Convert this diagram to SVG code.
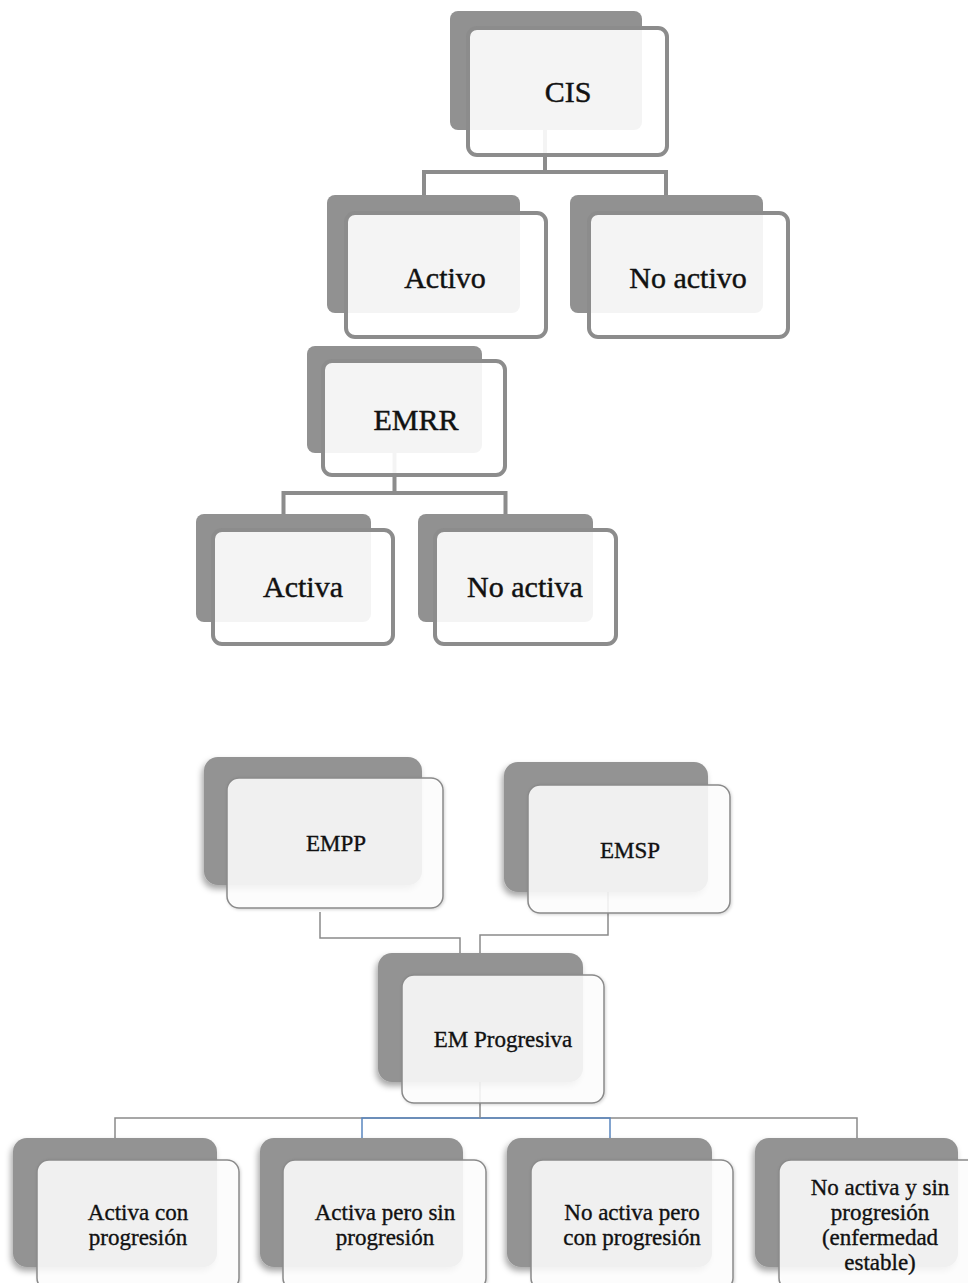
<svg xmlns="http://www.w3.org/2000/svg" width="968" height="1283" viewBox="0 0 968 1283">
  <defs>
    <filter id="shadowBack" x="-20%" y="-20%" width="140%" height="140%">
      <feDropShadow dx="-2" dy="4" stdDeviation="3" flood-color="#000" flood-opacity="0.35"/>
    </filter>
    <filter id="shadowFront" x="-20%" y="-20%" width="140%" height="140%">
      <feDropShadow dx="1" dy="1" stdDeviation="1.5" flood-color="#000" flood-opacity="0.18"/>
    </filter>
  </defs>
  <style>
    .back { fill: #919191; }
    .front-thick { fill: #ffffff; fill-opacity: 0.9; stroke: #8c8c8c; stroke-width: 4; }
    .back-soft { fill: #939393; filter: url(#shadowBack); }
    .front-thin { fill: #ffffff; fill-opacity: 0.86; stroke: #8a8a8a; stroke-width: 1.5; filter: url(#shadowFront); }
    .lbl-big { font-family: "Liberation Serif", "Times New Roman", serif; font-size: 30px; fill: #111; stroke: #111; stroke-width: 0.45; text-anchor: middle; }
    .lbl { font-family: "Liberation Serif", "Times New Roman", serif; font-size: 23px; fill: #111; stroke: #111; stroke-width: 0.35; text-anchor: middle; }
    .wire-thick { fill: none; stroke: #8c8c8c; stroke-width: 4; stroke-linejoin: miter; }
    .wire { fill: none; stroke: #8a8a8a; stroke-width: 1.5; }
    .wire-blue { fill: none; stroke: #5a86c0; stroke-width: 1.5; }
  </style>
  <rect width="968" height="1283" fill="#ffffff"/>

  <!-- connectors (drawn beneath the boxes) -->
  <g id="connectors">
    <path class="wire-thick" d="M545 130 V172 M424 195 V172 H666 V195"/>
    <path class="wire-thick" d="M394.5 453 V493 M283.5 514 V493 H505.5 V514"/>
    <path class="wire" d="M320 912 V938 H460 V953"/>
    <path class="wire" d="M608 892 V935 H480 V953"/>
    <path class="wire" d="M115 1138 V1118 H857 V1138"/>
    <path class="wire-blue" d="M362 1138 V1118 H610 V1138"/>
    <path class="wire" stroke="#6f7f95" d="M480 1082 V1118"/>
  </g>

  <!-- upper tree -->
  <g id="node-cis">
    <rect class="back" x="450" y="11" width="192" height="119" rx="8"/>
    <rect class="front-thick" x="468" y="28" width="199" height="127" rx="9"/>
    <text class="lbl-big" x="568" y="102" font-size="27">CIS</text>
  </g>
  <g id="node-activo">
    <rect class="back" x="327" y="195" width="193" height="118" rx="8"/>
    <rect class="front-thick" x="346" y="213" width="200" height="124" rx="9"/>
    <text class="lbl-big" x="445" y="288">Activo</text>
  </g>
  <g id="node-no-activo">
    <rect class="back" x="570" y="195" width="193" height="118" rx="8"/>
    <rect class="front-thick" x="589" y="213" width="199" height="124" rx="9"/>
    <text class="lbl-big" x="688" y="288">No activo</text>
  </g>
  <g id="node-emrr">
    <rect class="back" x="307" y="346" width="175" height="107" rx="8"/>
    <rect class="front-thick" x="323" y="361" width="182" height="114" rx="9"/>
    <text class="lbl-big" x="416" y="430">EMRR</text>
  </g>
  <g id="node-activa">
    <rect class="back" x="196" y="514" width="175" height="108" rx="8"/>
    <rect class="front-thick" x="213" y="530" width="180" height="114" rx="9"/>
    <text class="lbl-big" x="303" y="597">Activa</text>
  </g>
  <g id="node-no-activa">
    <rect class="back" x="418" y="514" width="175" height="108" rx="8"/>
    <rect class="front-thick" x="435" y="530" width="181" height="114" rx="9"/>
    <text class="lbl-big" x="525" y="597">No activa</text>
  </g>

  <!-- progressive forms -->
  <g id="node-empp">
    <rect class="back-soft" x="204" y="757" width="218" height="128" rx="14"/>
    <rect class="front-thin" x="227" y="778" width="216" height="130" rx="12"/>
    <text class="lbl" x="336" y="851" font-size="22">EMPP</text>
  </g>
  <g id="node-emsp">
    <rect class="back-soft" x="504" y="762" width="204" height="130" rx="14"/>
    <rect class="front-thin" x="528" y="785" width="202" height="128" rx="12"/>
    <text class="lbl" x="630" y="858" font-size="22">EMSP</text>
  </g>
  <g id="node-em-progresiva">
    <rect class="back-soft" x="378" y="953" width="205" height="129" rx="14"/>
    <rect class="front-thin" x="402" y="975" width="202" height="128" rx="12"/>
    <text class="lbl" x="503" y="1047">EM Progresiva</text>
  </g>

  <g id="node-activa-con-progresion">
    <rect class="back-soft" x="13" y="1138" width="204" height="129" rx="14"/>
    <rect class="front-thin" x="37" y="1160" width="202" height="130" rx="12"/>
    <text class="lbl" x="138" y="1220">Activa con</text>
    <text class="lbl" x="138" y="1245">progresión</text>
  </g>
  <g id="node-activa-sin-progresion">
    <rect class="back-soft" x="260" y="1138" width="203" height="129" rx="14"/>
    <rect class="front-thin" x="283" y="1160" width="203" height="130" rx="12"/>
    <text class="lbl" x="385" y="1220">Activa pero sin</text>
    <text class="lbl" x="385" y="1245">progresión</text>
  </g>
  <g id="node-no-activa-con-progresion">
    <rect class="back-soft" x="507" y="1138" width="205" height="129" rx="14"/>
    <rect class="front-thin" x="531" y="1160" width="202" height="130" rx="12"/>
    <text class="lbl" x="632" y="1220">No activa pero</text>
    <text class="lbl" x="632" y="1245">con progresión</text>
  </g>
  <g id="node-estable">
    <rect class="back-soft" x="755" y="1138" width="203" height="129" rx="14"/>
    <rect class="front-thin" x="779" y="1160" width="202" height="130" rx="12"/>
    <text class="lbl" x="880" y="1195">No activa y sin</text>
    <text class="lbl" x="880" y="1220">progresión</text>
    <text class="lbl" x="880" y="1245">(enfermedad</text>
    <text class="lbl" x="880" y="1270">estable)</text>
  </g>
</svg>
